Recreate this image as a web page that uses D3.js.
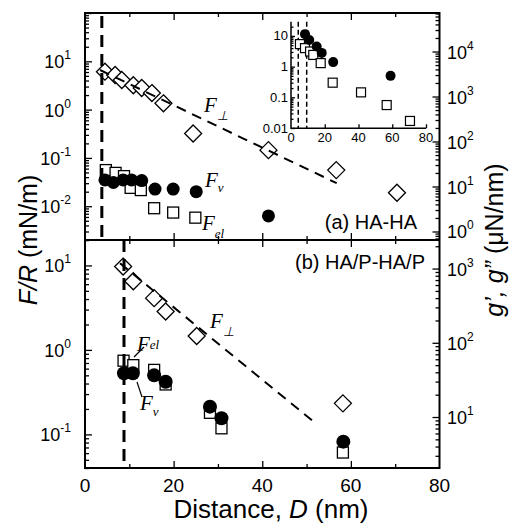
<!DOCTYPE html>
<html>
<head>
<meta charset="utf-8">
<script src="https://cdnjs.cloudflare.com/ajax/libs/d3/7.8.5/d3.min.js"></script>
<style>
  body { margin:0; background:#fff; }
  text { font-family:"Liberation Sans", Arial, sans-serif; fill:#000; }
  .serif { font-family:"Liberation Serif", "Times New Roman", serif; font-style:italic; }
</style>
</head>
<body>
<div id="chart"></div>
<script>
// (a) HA-HA, main panel
var topDiamD = [4.5, 6.8, 8.3, 10.9, 12.8, 15.1, 17.7, 24.4, 41.4, 56.7, 70.4];
var topDiamF = [6.1, 5.2, 4.1, 3.2, 2.8, 2.2, 1.35, 0.32, 0.145, 0.056, 0.019];
var topSqD = [4.7, 6.9, 8.8, 10.3, 12.6, 15.6, 19.9, 24.9];
var topSqF = [0.056, 0.049, 0.042, 0.024, 0.0216, 0.0091, 0.0074, 0.0058];
var topCircD = [4.5, 6.4, 8.6, 10.5, 12.8, 15.8, 19.9, 25.1, 41.4];
var topCircF = [0.035, 0.031, 0.035, 0.035, 0.034, 0.0227, 0.0227, 0.020, 0.0063];
var topFit = [[3.4, 6.6], [56.8, 0.030]];
var topWall = 3.8;

// (b) HA/P-HA/P
var botDiamD = [8.6, 10.9, 15.6, 18.2, 25.2, 58.2];
var botDiamF = [9.7, 6.5, 4.1, 2.85, 1.46, 0.233];
var botSqD = [8.7, 10.9, 15.6, 18.2, 28.2, 30.8, 58.2];
var botSqF = [0.745, 0.66, 0.58, 0.39, 0.18, 0.118, 0.061];
var botCircD = [8.8, 10.8, 15.6, 18.2, 28.2, 30.8, 58.3];
var botCircF = [0.53, 0.53, 0.50, 0.42, 0.213, 0.155, 0.082];
var botFit = [[7.9, 10.6], [51.9, 0.137]];
var botWall = 8.8;

// inset of (a)
var inCircD = [8.3, 10.8, 15.2, 18.2, 25, 59];
var inCircG = [11.4, 7.4, 4.5, 2.8, 1.4, 0.5];
var inSqD = [5.3, 8.3, 11.3, 13.2, 17.6, 24.7, 41.5, 56.7, 70.5];
var inSqG = [5.4, 4.0, 3.1, 2.4, 1.3, 0.3, 0.145, 0.056, 0.017];
var inWalls = [4.3, 9.3];

var xTicks = [0, 20, 40, 60, 80];
var topLeftExp = [1, 0, -1, -2];
var topRightExp = [4, 3, 2, 1, 0];
var botLeftExp = [1, 0, -1];
var botRightExp = [3, 2, 1];
var inYTicks = [10, 1, 0.1, 0.01];

var W = 510, H = 527;
var L = 85, R = 439.5, T = 13, M = 240, B = 468;

var svg = d3.select('#chart').append('svg')
  .attr('width', W).attr('height', H);
svg.append('rect').attr('width', W).attr('height', H).attr('fill', '#fff');

var x = d3.scaleLinear().domain([0, 80]).range([L, R]);
var yTop = d3.scaleLog().domain([0.002, 100]).range([M, T]);
var yTopR = d3.scaleLog().domain([Math.pow(10, -0.189), Math.pow(10, 4.856)]).range([M, T]);
var yBot = d3.scaleLog().domain([0.04, 20]).range([B, M]);
var yBotR = d3.scaleLog().domain([Math.pow(10, 0.313), Math.pow(10, 3.385)]).range([B, M]);
var ix = d3.scaleLinear().domain([0, 80]).range([291, 426]);
var iy = d3.scaleLog().domain([0.0098, 29]).range([128.3, 21.7]);

function logVals(scale, major) {
  var d = scale.domain(), out = [];
  for (var e = Math.floor(Math.log10(d[0])); e <= Math.ceil(Math.log10(d[1])); e++) {
    for (var m = 1; m < 10; m++) {
      var v = m * Math.pow(10, e);
      if (v >= d[0] * 0.999 && v <= d[1] * 1.001 && ((m === 1) === major)) out.push(v);
    }
  }
  return out;
}

function ticks(g, axis, vals, size) {
  g.call(axis.tickValues(vals).tickSize(size).tickFormat(''));
  g.select('.domain').remove();
  g.selectAll('line').attr('stroke', '#000').attr('stroke-width', 1.3);
}

function yTicks(scale, xpos, side, maj, min) {
  var mk = side === 'left' ? d3.axisLeft : d3.axisRight;
  ticks(svg.append('g').attr('transform', 'translate(' + xpos + ',0)'), mk(scale), logVals(scale, true), -maj);
  ticks(svg.append('g').attr('transform', 'translate(' + xpos + ',0)'), mk(scale), logVals(scale, false), -min);
}

yTicks(yTop, L, 'left', 7, 4);
yTicks(yBot, L, 'left', 7, 4);
yTicks(yTopR, R, 'right', 7, 4);
yTicks(yBotR, R, 'right', 7, 4);

function xTickRow(ypos, dir) {
  var mk = dir === 'up' ? d3.axisBottom : d3.axisTop;
  ticks(svg.append('g').attr('transform', 'translate(0,' + ypos + ')'), mk(x), [20, 40, 60], -7);
  ticks(svg.append('g').attr('transform', 'translate(0,' + ypos + ')'), mk(x), [10, 30, 50, 70], -4);
}
xTickRow(B, 'up');
xTickRow(M, 'up');
xTickRow(M, 'down');
xTickRow(T, 'down');

// frame
svg.append('rect').attr('x', L).attr('y', T).attr('width', R - L).attr('height', B - T)
  .attr('fill', 'none').attr('stroke', '#000').attr('stroke-width', 2);
svg.append('line').attr('x1', L).attr('x2', R).attr('y1', M).attr('y2', M)
  .attr('stroke', '#000').attr('stroke-width', 2);

// power-of-ten labels
function powLabels(scale, exps, xpos, anchor) {
  var t = svg.append('g').selectAll('text').data(exps).enter().append('text')
    .attr('x', xpos).attr('y', function(d) { return scale(Math.pow(10, d)) + 7; })
    .attr('text-anchor', anchor).style('font-size', '18px');
  t.append('tspan').text('10');
  t.append('tspan').attr('dy', -9).style('font-size', '12px').text(function(d) { return d; });
}
powLabels(yTop, topLeftExp, 71, 'end');
powLabels(yBot, botLeftExp, 71, 'end');
powLabels(yTopR, topRightExp, 447, 'start');
powLabels(yBotR, botRightExp, 447, 'start');

svg.append('g').selectAll('text').data(xTicks).enter().append('text')
  .attr('x', function(d) { return x(d); }).attr('y', 492)
  .attr('text-anchor', 'middle').style('font-size', '19px')
  .text(function(d) { return d; });

// axis titles
var lt = svg.append('text').attr('transform', 'translate(37,240) rotate(-90)')
  .attr('text-anchor', 'middle').style('font-size', '25px');
lt.append('tspan').style('font-style', 'italic').text('F/R');
lt.append('tspan').text(' (mN/m)');

var rt = svg.append('text').attr('transform', 'translate(503,240) rotate(-90)')
  .attr('text-anchor', 'middle').style('font-size', '25px');
rt.append('tspan').style('font-style', 'italic').text('g’, g”');
rt.append('tspan').text(' (μN/nm)');

var bt = svg.append('text').attr('x', 271).attr('y', 518)
  .attr('text-anchor', 'middle').style('font-size', '26px');
bt.append('tspan').text('Distance, ');
bt.append('tspan').style('font-style', 'italic').text('D');
bt.append('tspan').text(' (nm)');

// markers
function zip(a, b) { return a.map(function(v, i) { return [v, b[i]]; }); }

function squares(xs, ys, data, s, w) {
  svg.append('g').selectAll('rect').data(data).enter().append('rect')
    .attr('x', function(d) { return xs(d[0]) - s / 2; })
    .attr('y', function(d) { return ys(d[1]) - s / 2; })
    .attr('width', s).attr('height', s)
    .attr('fill', '#fff').attr('stroke', '#000').attr('stroke-width', w);
}
function circles(xs, ys, data, r) {
  svg.append('g').selectAll('circle').data(data).enter().append('circle')
    .attr('cx', function(d) { return xs(d[0]); })
    .attr('cy', function(d) { return ys(d[1]); })
    .attr('r', r).attr('fill', '#000');
}
function diamonds(xs, ys, data, r) {
  svg.append('g').selectAll('path').data(data).enter().append('path')
    .attr('d', 'M0,' + (-r) + 'L' + r + ',0L0,' + r + 'L' + (-r) + ',0Z')
    .attr('transform', function(d) { return 'translate(' + xs(d[0]) + ',' + ys(d[1]) + ')'; })
    .attr('fill', '#fff').attr('stroke', '#000').attr('stroke-width', 1.3);
}
function fitLine(ys, pts) {
  svg.append('path').datum(pts)
    .attr('d', d3.line().x(function(d) { return x(d[0]); }).y(function(d) { return ys(d[1]); }))
    .attr('fill', 'none').attr('stroke', '#000').attr('stroke-width', 2)
    .attr('stroke-dasharray', '10,7');
}

// panel (a)
squares(x, yTop, zip(topSqD, topSqF), 11, 1.3);
circles(x, yTop, zip(topCircD, topCircF), 6.5);
diamonds(x, yTop, zip(topDiamD, topDiamF), 8.5);
fitLine(yTop, topFit);
svg.append('line').attr('x1', x(topWall)).attr('x2', x(topWall)).attr('y1', 16).attr('y2', M)
  .attr('stroke', '#000').attr('stroke-width', 3).attr('stroke-dasharray', '12,7');

// panel (b)
squares(x, yBot, zip(botSqD, botSqF), 11, 1.3);
circles(x, yBot, zip(botCircD, botCircF), 7);
diamonds(x, yBot, zip(botDiamD, botDiamF), 8.5);
fitLine(yBot, botFit);
svg.append('line').attr('x1', x(botWall)).attr('x2', x(botWall)).attr('y1', M).attr('y2', B)
  .attr('stroke', '#000').attr('stroke-width', 3).attr('stroke-dasharray', '12,7');

// inset
var inB = iy.range()[0], inT = iy.range()[1];
svg.append('g').selectAll('line').data(inWalls).enter().append('line')
  .attr('x1', function(d) { return ix(d); }).attr('x2', function(d) { return ix(d); })
  .attr('y1', inT).attr('y2', inB)
  .attr('stroke', '#000').attr('stroke-width', 1.5).attr('stroke-dasharray', '5,3');
squares(ix, iy, zip(inSqD, inSqG), 9, 1.2);
circles(ix, iy, zip(inCircD, inCircG), 5);
ticks(svg.append('g').attr('transform', 'translate(' + ix(0) + ',0)'), d3.axisLeft(iy), logVals(iy, true), -4);
ticks(svg.append('g').attr('transform', 'translate(' + ix(0) + ',0)'), d3.axisLeft(iy), logVals(iy, false), -2.5);
ticks(svg.append('g').attr('transform', 'translate(0,' + inB + ')'), d3.axisBottom(ix), [20, 40, 60, 80], -4);
svg.append('path').attr('d', 'M' + ix(0) + ',' + inT + 'V' + inB + 'H' + ix(80))
  .attr('fill', 'none').attr('stroke', '#000').attr('stroke-width', 1.5);
svg.append('g').selectAll('text').data(xTicks).enter().append('text')
  .attr('x', function(d) { return ix(d); }).attr('y', 142)
  .attr('text-anchor', 'middle').style('font-size', '13px')
  .text(function(d) { return d; });
svg.append('g').selectAll('text').data(inYTicks).enter().append('text')
  .attr('x', 288).attr('y', function(d) { return iy(d) + 4.5; })
  .attr('text-anchor', 'end').style('font-size', '13px')
  .text(function(d) { return d; });

// annotations
function flabel(xp, yp, sub, dy) {
  var t = svg.append('text').attr('class', 'serif').attr('x', xp).attr('y', yp).style('font-size', '21px');
  t.append('tspan').text('F');
  t.append('tspan').attr('dy', dy).style('font-size', '13px').text(sub);
}
flabel(204, 112, '⊥', 8);
flabel(205, 187, 'v', 5);
flabel(202, 230, 'el', 8);
flabel(210, 328, '⊥', 8);
flabel(137, 351, 'el', -2);
flabel(140, 410, 'v', 6);

svg.append('line').attr('x1', 144).attr('y1', 347).attr('x2', 134).attr('y2', 357)
  .attr('stroke', '#000').attr('stroke-width', 1.2);
svg.append('line').attr('x1', 137).attr('y1', 382).attr('x2', 142).attr('y2', 397)
  .attr('stroke', '#000').attr('stroke-width', 1.2);

svg.append('text').attr('x', 417).attr('y', 229).attr('text-anchor', 'end')
  .style('font-size', '20px').text('(a) HA-HA');
svg.append('text').attr('x', 425).attr('y', 269).attr('text-anchor', 'end')
  .style('font-size', '20px').text('(b) HA/P-HA/P');
</script>
</body>
</html>
